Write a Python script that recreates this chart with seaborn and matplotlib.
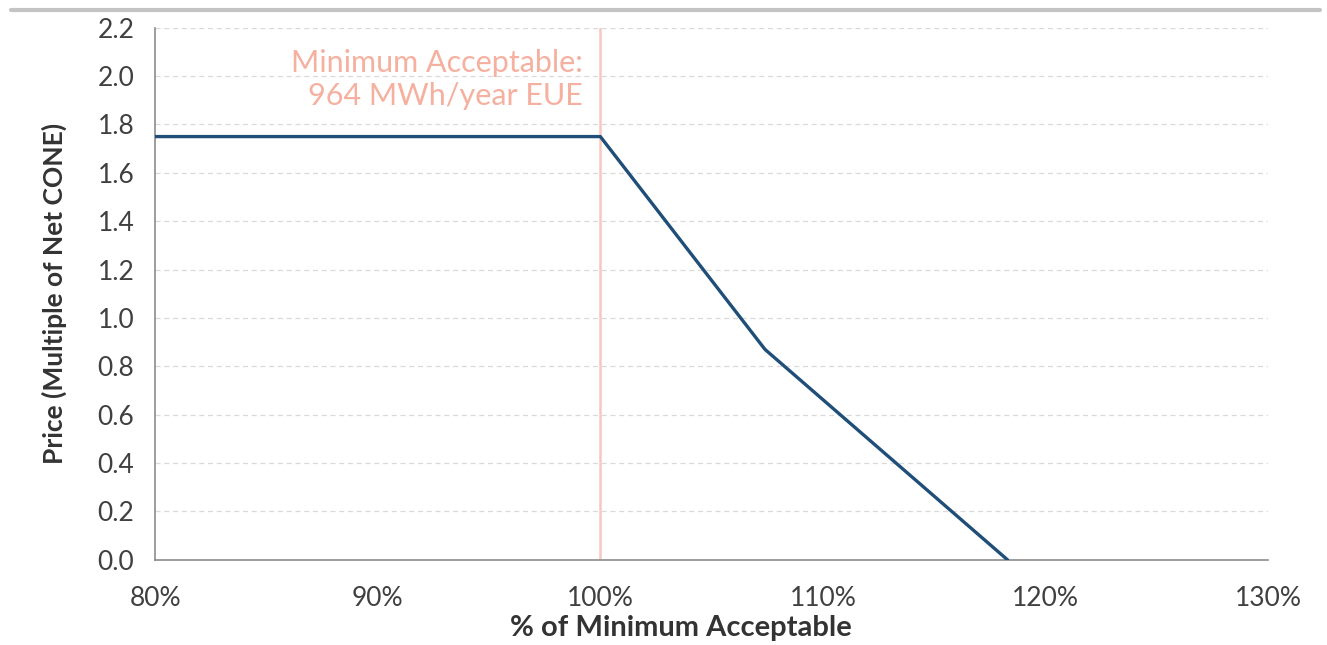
import pandas as pd
import matplotlib
matplotlib.use("Agg")
import matplotlib.pyplot as plt
import seaborn as sns

sns.set_style("white")
plt.rcParams["font.family"] = ["Lato", "DejaVu Sans"]

# DATA
pct_of_min = [80, 100, 107.4, 118.3]
price = [1.75, 1.75, 0.87, 0.0]
min_acceptable = 100
x_ticks = [80, 90, 100, 110, 120, 130]
y_ticks = [0.0, 0.2, 0.4, 0.6, 0.8, 1.0, 1.2, 1.4, 1.6, 1.8, 2.0, 2.2]

df = pd.DataFrame({"pct": pct_of_min, "price": price})

fig = plt.figure(figsize=(13.27, 6.45), dpi=100)
ax = fig.add_axes([0.117, 0.132, 0.8385, 0.825])

# top gray rule
fig.add_artist(plt.Line2D([0.008, 0.995], [0.985, 0.985], color="#c4c4c4",
                          linewidth=3, transform=fig.transFigure))

for y in y_ticks[1:]:
    ax.axhline(y, color="#d9d9d9", linestyle=(0, (4, 3)), linewidth=0.9, zorder=0)

ax.axvline(min_acceptable, color="#f8c8be", linewidth=1.8, zorder=1)

sns.lineplot(data=df, x="pct", y="price", ax=ax, color="#1f4e79",
             linewidth=2.4, zorder=3)

ax.text(99.2, 1.985, "Minimum Acceptable:\n964 MWh/year EUE", ha="right", va="center",
        color="#f6b09f", fontsize=22, linespacing=1.2)

ax.set_xlim(80, 130)
ax.set_ylim(0, 2.2)
ax.set_xticks(x_ticks)
ax.set_xticklabels([f"{t}%" for t in x_ticks])
ax.set_yticks(y_ticks)
ax.set_yticklabels([f"{t:.1f}" for t in y_ticks])

for s in ["top", "right"]:
    ax.spines[s].set_visible(False)
for s in ["left", "bottom"]:
    ax.spines[s].set_color("#8c8c8c")
    ax.spines[s].set_linewidth(1.2)

ax.tick_params(axis="both", direction="out", length=7, width=1.2, color="#8c8c8c",
               labelsize=19, labelcolor="#404040")
ax.tick_params(axis="x", pad=12)
ax.tick_params(axis="y", pad=8)

ax.set_xlabel("% of Minimum Acceptable", fontsize=21, fontweight="bold", color="#333333")
ax.xaxis.set_label_coords(0.472, -0.103)
ax.set_ylabel("Price (Multiple of Net CONE)", fontsize=19, fontweight="bold", color="#333333", labelpad=22)

fig.savefig("out.png", dpi=100)
